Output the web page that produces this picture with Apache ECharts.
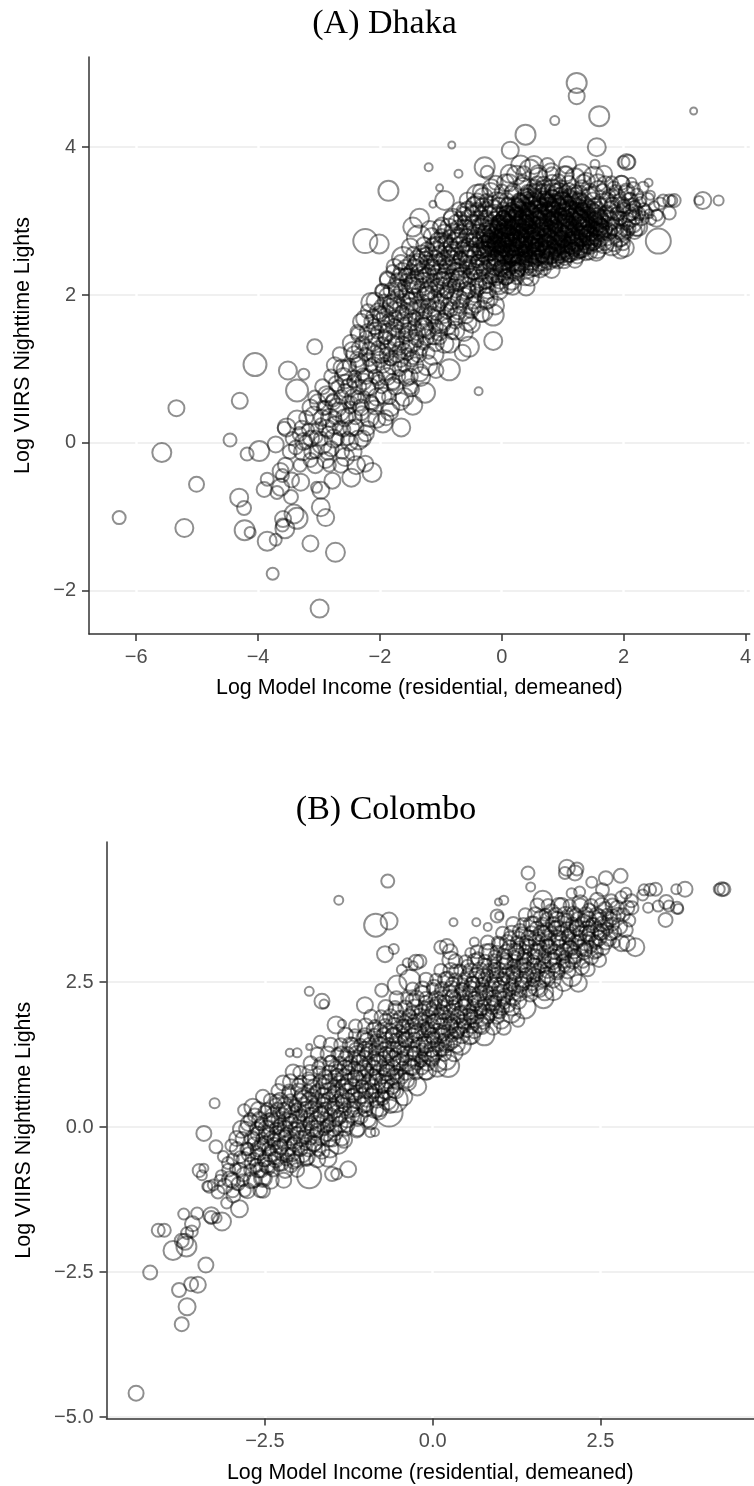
<!DOCTYPE html>
<html><head><meta charset="utf-8"><style>html,body{margin:0;background:#fff}#c{width:754px;height:1486px}</style>
<script src="https://cdn.jsdelivr.net/npm/echarts@6/dist/echarts.min.js"></script></head><body><div id="c"></div>
<script>
const titles=["(A) Dhaka","(B) Colombo"];
const xName="Log Model Income (residential, demeaned)";
const yName="Log VIIRS Nighttime Lights";
const dhakaXTicks=[-6,-4,-2,0,2,4];
const dhakaYTicks=[-2,0,2,4];
const colomboXTicks=[-2.5,0,2.5];
const colomboYTicks=[-5,-2.5,0,2.5];
// [log income, log lights, circle size]
const dhakaOutliers=[[-6.28,-1.01,13],[-5.58,-.13,19],[-5.34,.47,16],[-5.21,-1.15,18],[-5.01,-.56,15],[-4.46,.04,13],[-4.05,1.06,23],[-4.3,.57,16],[-4.18,-.15,13],[-3.98,-.11,20],[-4.31,-.74,18],[-4.23,-.88,14],[-4.22,-1.18,20],[-4.13,-1.21,11],[-3.85,-1.33,19],[-3.71,-1.31,12],[-3.76,-1.77,12],[-2.99,-2.24,18],[-2.73,-1.48,19],[-3.14,-1.36,16],[-2.89,-1.01,17],[-2.97,-.87,18],[-2.97,-.64,17],[-3.04,-.6,11],[-3.41,-.96,19],[-3.36,-1.02,21],[-3.59,-1.03,16],[-3.56,-1.16,19],[-3.6,-1.11,13],[-3.46,-.73,14],[-3.9,-.63,15],[-3.85,-.49,13],[-3.69,-.67,13],[-3.63,-.6,17],[-3.6,-.44,13],[-3.63,-.38,16],[-3.45,-.5,15],[-3.3,-.53,17],[-3.14,-.23,14],[-2.89,-.23,16],[-2.78,-.51,16],[-2.47,-.47,18],[-2.13,-.4,19],[-2.57,-.19,18],[-2.39,-.3,18],[-2.24,-.28,16],[-1.95,.27,19],[-1.65,.21,18],[-1.46,.51,19],[-2.35,.04,19],[-3.71,-.02,16],[-3.57,.2,13],[-3.53,.21,18],[-3.36,.31,19],[-3.22,.01,13],[-3.38,-.06,14],[-3.51,.98,18],[-3.25,.93,11],[-3.36,.71,22],[-3.07,1.3,15],[-1.86,3.41,20],[-2.24,2.73,24],[-2.01,2.69,19],[1.23,4.87,20],[1.23,4.69,16],[1.6,4.42,20],[.87,4.36,9],[3.15,4.49,7],[.39,4.17,20],[1.56,4,18],[-.82,4.03,7],[-1.2,3.73,8],[-.71,3.64,8],[-1.02,3.45,7],[-1.13,3.23,7],[.14,3.96,17],[-.94,3.28,19],[-.28,3.73,20],[-.24,3.66,13],[-.4,3.35,21],[-1.35,3.04,19],[-1.46,2.92,19],[2.05,3.8,16],[2.08,3.8,14],[2,3.8,12],[1.53,3.77,9],[2.41,3.52,8],[2.13,3.52,10],[2.44,3.35,9],[2.65,3.28,12],[2.75,3.28,12],[2.8,3.28,10],[2.83,3.28,13],[2.75,3.11,13],[2.54,3.04,17],[2.42,3.1,9],[2.57,2.73,25],[3.24,3.28,9],[3.3,3.28,17],[3.56,3.28,10],[-.14,1.38,18],[-.54,1.3,20],[-.14,1.73,21],[.4,2.11,17],[1.95,2.61,17],[-.38,.7,8]];
const dhakaLeftBody=[[-3.32,.12,14],[-3.25,.02,17],[-3.18,.18,12],[-3.12,-.12,15],[-3.08,.37,18],[-3.05,.08,13],[-3.02,.55,16],[-2.97,.26,11],[-2.95,-.02,19],[-2.92,.47,14],[-2.88,.66,16],[-2.85,.14,12],[-2.82,.34,18],[-2.8,-.08,15],[-2.77,.58,13],[-2.75,.24,17],[-2.72,.8,15],[-2.69,.05,12],[-2.66,.42,19],[-2.63,1.02,16],[-2.6,.18,14],[-2.58,.71,13],[-2.55,.98,20],[-2.52,.37,15],[-2.5,.01,17],[-2.47,.55,12],[-2.45,1.25,17],[-2.42,.84,14],[-2.4,.21,16],[-2.37,.62,13],[-2.35,1.47,15],[-2.33,1.08,18],[-2.3,.4,14],[-2.28,.93,12],[-2.25,1.68,17],[-2.23,.13,16],[-2.2,.74,15],[-2.18,1.28,13],[-2.15,1.9,19],[-2.13,.53,14],[-2.1,1.05,16],[-2.08,1.55,12],[-2.05,.32,17],[-2.03,.87,13],[-2,1.75,15],[-1.98,1.2,18],[-1.96,2.05,14],[-1.94,.64,16],[-1.92,1.42,13],[-1.9,.98,19],[-1.88,2.22,15],[-1.86,1.66,12],[-1.84,.42,17],[-1.82,1.14,14],[-1.8,1.88,18],[-1.78,.8,13],[-1.76,2.38,16],[-1.74,1.34,15],[-1.72,1.58,12],[-1.7,2.08,19],[-1.68,1,14],[-1.66,.56,17],[-1.64,1.77,13],[-1.62,2.5,22],[-1.6,1.24,15],[-1.58,2.27,13],[-1.56,.88,16],[-1.54,1.5,18],[-1.52,1.96,12],[-1.5,2.65,17],[-1.48,.73,15],[-1.46,1.16,14],[-1.44,2.15,20],[-1.42,1.67,13],[-1.4,2.42,16],[-1.38,1.38,12],[-1.36,2.78,24],[-1.34,.95,17],[-1.32,1.85,14],[-1.3,2.28,16],[-1.28,1.56,19],[-1.26,.68,20],[-1.24,2.56,13],[-1.22,2.02,15],[-1.2,1.22,12],[-1.18,2.88,18],[-1.16,1.73,17],[-1.14,2.36,14],[-1.12,1.44,16],[-1.1,2.66,19],[-1.08,.98,15],[-1.06,2.13,13],[-1.04,1.9,17],[-1.02,2.48,12],[-1,1.62,20],[-.98,2.94,16],[-.96,2.22,14],[-.94,1.34,18],[-.92,2.7,15],[-.9,2.04,13],[-.88,2.4,17],[-.86,.99,21],[-.84,1.8,14],[-.82,2.58,16],[-.8,3.04,19],[-.78,2.14,12],[-.76,1.52,18],[-.74,2.34,15],[-.72,2.8,13],[-.7,1.95,17],[-.68,2.5,14],[-.66,2.24,20],[-.64,1.22,16],[-.62,2.66,13],[-.6,3.12,18],[-.58,1.72,15],[-.56,2.42,17],[-.54,2.06,14],[-.52,2.9,12],[-.5,2.56,19],[-.49,1.6,16],[-.47,2.3,13]];
const dhakaMidBody=[[-.45,2.75,15],[-.43,3.2,20],[-.42,1.88,17],[-.4,2.46,13],[-.38,2.12,16],[-.37,2.95,14],[-.35,2.62,18],[-.33,1.74,15],[-.32,2.34,12],[-.3,3.32,19],[-.29,2.82,16],[-.27,2.18,14],[-.26,2.55,17],[-.24,3.02,13],[-.23,1.96,20],[-.21,2.7,15],[-.2,2.4,12],[-.18,2.9,18],[-.17,3.45,17],[-.15,2.26,14],[-.14,2.62,16],[-.12,3.12,15],[-.11,1.86,18],[-.09,2.78,13],[-.08,2.48,17],[-.06,2.98,14],[-.05,2.14,19],[-.03,3.28,16],[-.02,2.66,12],[0,2.36,17],[.01,2.86,15],[.03,3.06,13],[.04,2.55,18],[.06,3.52,17],[.07,2.24,15],[.09,2.74,14],[.1,3.2,16],[.12,2.46,13],[.13,2.94,19],[.15,2.64,15],[.16,3.38,14],[.18,2.12,17],[.19,2.82,12],[.21,3.1,18],[.22,2.54,16],[.24,3.62,19],[.25,2.32,14],[.27,2.96,15],[.28,2.72,13],[.3,3.24,17],[.31,2.44,18],[.33,2.86,14],[.34,3.48,16],[.36,2.6,12],[.37,3.04,19],[.39,2.24,16],[.4,2.78,15],[.42,3.34,14],[.43,2.52,17],[.45,2.94,13],[.46,3.7,20],[.48,2.68,16],[.49,3.14,14],[.51,2.38,18],[.52,2.84,15],[.54,3.42,13],[.55,2.6,17],[.57,3.02,16],[.58,2.74,12],[.6,3.6,18],[.61,2.5,15],[.63,3.22,14],[.64,2.9,17],[.66,2.68,13],[.67,3.1,19],[.69,3.5,15],[.7,2.44,16],[.72,2.98,12],[.73,2.78,18],[.75,3.3,14],[.76,2.6,17],[.78,3.16,15],[.79,2.86,13],[.81,3.66,18],[.82,2.54,16],[.84,3.04,14],[.85,3.4,17],[.87,2.72,15],[.88,2.94,12],[.9,3.22,19],[.91,2.64,16],[.93,3.54,14],[.94,2.84,17],[.96,3.08,13],[.97,2.56,18],[.99,3.32,15],[1,2.76,16],[1.02,3,14],[1.03,3.62,18],[1.05,2.66,13],[1.07,3.18,17],[1.08,2.88,15],[1.1,3.42,14],[1.12,2.58,19],[1.13,3.06,16],[1.15,2.78,12],[1.17,3.28,17],[1.18,2.96,15],[1.2,3.58,20],[1.22,2.68,14],[1.23,3.14,16],[1.25,2.86,13],[1.27,3.36,18],[1.28,2.6,15],[1.3,3.02,17],[1.32,3.46,14],[1.33,2.78,16],[1.35,3.2,12],[1.37,2.92,19],[1.39,3.54,17],[1.4,2.66,15],[1.42,3.1,14],[1.44,2.84,16],[1.46,3.34,18],[1.47,3,13],[1.49,2.72,17],[1.51,3.6,20],[1.53,3.2,15],[1.55,2.9,14],[1.57,2.62,18]];
const dhakaRightBody=[[1.58,3.42,18],[1.6,2.78,19],[1.62,3.06,15],[1.64,2.94,13],[1.66,3.26,17],[1.68,2.7,20],[1.7,3.5,16],[1.72,3.12,14],[1.74,2.86,18],[1.76,3.34,13],[1.78,3,17],[1.8,2.68,21],[1.82,3.22,15],[1.84,3.44,14],[1.86,2.92,18],[1.88,3.1,12],[1.9,3.32,16],[1.92,2.78,19],[1.94,3.04,14],[1.96,3.5,17],[1.98,2.84,16],[2,3.2,13],[2.02,2.64,18],[2.04,3.38,15],[2.06,3,17],[2.08,2.9,14],[2.1,3.3,12],[2.12,3.12,16],[2.14,2.98,20],[2.16,3.44,13],[2.18,3.2,11],[2.2,3.06,15],[2.22,3.36,12],[2.24,2.92,18],[2.28,3.26,10],[2.32,3.46,11],[2.36,3.12,13],[2.4,3.3,12],[2.45,3.02,10],[2.5,3.2,10],[2.55,3.08,11],[2.6,3.24,12]];
// each row: log lights, then pairs of log income and circle size
const dhakaRows=[
[-.3,-3.55,15,-3.31,13,-3.06,16,-2.83,13,-2.64,15],
[-.12,-3.48,14,-3.27,17,-3.05,13,-2.85,16,-2.62,14,-2.44,17],
[.06,-3.44,13,-3.13,16,-2.97,14,-2.76,18,-2.53,13,-2.28,16],
[.2,-3.28,15,-3.03,12,-2.87,17,-2.66,14,-2.47,16,-2.2,14],
[.34,-3.21,14,-2.95,16,-2.74,13,-2.58,17,-2.4,13,-2.17,18,-1.9,15],
[.48,-3.14,16,-2.89,14,-2.7,18,-2.49,12,-2.31,16,-2.09,14,-1.82,17],
[.62,-3.07,13,-2.84,17,-2.63,14,-2.44,16,-2.26,12,-2.05,17,-1.85,14,-1.6,18],
[.76,-2.94,15,-2.69,13,-2.51,16,-2.34,14,-2.16,17,-1.97,13,-1.75,16,-1.5,15],
[.9,-2.8,14,-2.6,17,-2.41,12,-2.23,15,-2.07,14,-1.88,17,-1.69,13,-1.51,16,-1.33,19],
[1.05,-2.74,16,-2.5,13,-2.35,16,-2.15,13,-1.95,15,-1.79,18,-1.6,13,-1.42,16,-1.22,20],
[1.2,-2.66,14,-2.42,16,-2.24,13,-2.08,17,-1.89,14,-1.72,16,-1.55,12,-1.37,16,-1.13,21],
[1.35,-2.47,17,-2.29,14,-2.12,16,-1.96,12,-1.8,16,-1.63,14,-1.47,18,-1.28,13,-1.08,16,-.85,19],
[1.5,-2.37,14,-2.2,16,-2.04,13,-1.87,17,-1.7,14,-1.56,12,-1.39,16,-1.2,14,-1.03,17,-.82,14,-.62,18],
[1.64,-2.31,16,-2.14,14,-1.98,17,-1.82,13,-1.65,15,-1.48,17,-1.31,14,-1.14,12,-.96,16,-.76,14,-.56,18],
[1.78,-2.2,14,-2.03,16,-1.88,12,-1.71,17,-1.56,14,-1.4,16,-1.25,13,-1.07,17,-.9,14,-.71,16,-.5,14,-.32,21],
[1.92,-2.08,17,-1.93,13,-1.76,15,-1.61,14,-1.46,18,-1.3,13,-1.16,16,-.99,14,-.82,17,-.64,13,-.46,15,-.26,17],
[2.06,-1.96,14,-1.81,16,-1.66,13,-1.5,16,-1.36,14,-1.2,18,-1.05,13,-.9,15,-.75,14,-.58,17,-.41,13,-.23,16,-.05,18],
[2.2,-1.87,16,-1.72,14,-1.57,12,-1.43,17,-1.28,15,-1.13,13,-.99,16,-.84,14,-.69,18,-.53,13,-.37,15,-.2,14,-.02,17,.16,19],
[2.32,-1.79,13,-1.63,17,-1.49,14,-1.34,16,-1.19,13,-1.04,15,-.91,14,-.76,17,-.61,12,-.46,16,-.3,14,-.15,13,.03,17,.22,18],
[2.44,-1.66,15,-1.51,13,-1.37,17,-1.23,14,-1.09,16,-.95,13,-.8,15,-.67,18,-.52,13,-.37,16,-.22,14,-.08,17,.08,13,.27,16,.45,20],
[2.56,-1.45,14,-1.31,17,-1.16,13,-1.02,16,-.88,14,-.74,12,-.6,17,-.45,14,-.3,16,-.16,13,0,15,.15,17,.34,14,.52,18,.7,19],
[2.68,-1.28,15,-1.12,13,-.98,17,-.84,14,-.7,16,-.56,13,-.42,15,-.27,18,-.12,13,.03,16,.19,14,.36,16,.55,13,.75,19,.96,18,1.18,20],
[2.8,-1.15,16,-.99,14,-.86,12,-.72,16,-.58,14,-.44,17,-.3,13,-.16,15,-.02,14,.14,17,.31,13,.5,16,.71,14,.93,17,1.16,15,1.42,19,1.72,19,1.95,20],
[2.92,-1.02,14,-.87,17,-.73,13,-.6,15,-.47,14,-.33,17,-.19,13,-.05,16,.1,14,.27,15,.45,13,.66,17,.88,14,1.11,16,1.36,14,1.61,18,1.83,15,2.02,17,2.2,18],
[3.04,-.83,15,-.68,13,-.54,17,-.4,14,-.26,16,-.12,13,.03,15,.2,17,.4,14,.61,16,.82,13,1.05,15,1.29,17,1.54,14,1.76,16,1.95,13,2.13,17,2.3,14],
[3.16,-.7,14,-.55,16,-.41,13,-.27,15,-.13,18,.03,14,.21,16,.4,13,.6,17,.84,14,1.08,16,1.33,13,1.57,15,1.8,17,2,14,2.17,16,2.33,12],
[3.28,-.56,16,-.4,14,-.25,13,-.09,17,.08,15,.28,14,.5,16,.73,13,.99,17,1.26,14,1.5,16,1.73,15,1.93,13,2.1,16,2.27,13],
[3.4,-.35,15,-.18,17,0,14,.19,16,.42,13,.67,15,.94,17,1.2,14,1.44,16,1.66,15,1.87,13,2.05,16],
[3.52,-.1,14,.12,17,.35,15,.58,13,.83,16,1.1,14,1.34,16,1.58,17,1.8,13,1.97,14],
[3.64,.13,18,.36,15,.6,17,.82,13,1.06,15,1.31,19,1.68,16],
[3.76,.31,19,.53,18,.75,14,1.08,17]
];
const dhakaCoreRows=[
[2.36,-.02,15,.12,13,.26,16,.4,14,.55,15,.7,13],
[2.44,.05,14,.18,16,.33,13,.48,15,.62,17,.78,14,.92,12],
[2.5,-.12,13,.02,16,.16,14,.3,12,.45,16,.59,14,.74,13,.89,16,1.04,14],
[2.56,-.2,14,-.06,15,.09,13,.23,17,.38,14,.52,13,.66,16,.81,14,.96,13,1.11,16],
[2.62,-.28,16,-.13,13,.02,14,.17,16,.31,13,.45,15,.6,14,.74,17,.88,13,1.03,15,1.18,14,1.33,16],
[2.68,-.22,13,-.07,16,.08,14,.22,13,.36,16,.51,14,.65,12,.8,16,.95,14,1.09,15,1.24,13,1.39,16],
[2.74,-.31,15,-.15,14,0,16,.14,12,.29,15,.43,14,.57,17,.72,13,.87,15,1.01,14,1.16,17,1.3,13,1.46,16],
[2.8,-.24,14,-.09,13,.06,17,.21,14,.35,12,.49,16,.64,14,.78,15,.93,13,1.07,16,1.22,14,1.37,13,1.52,16],
[2.86,-.17,16,-.02,14,.12,13,.27,15,.41,14,.56,16,.7,13,.85,17,.99,14,1.14,12,1.28,16,1.43,14,1.58,15],
[2.92,-.1,13,.05,16,.19,14,.33,15,.48,13,.62,17,.77,14,.91,12,1.05,16,1.2,14,1.34,15,1.49,13,1.63,16],
[2.98,-.03,15,.11,13,.26,16,.4,14,.54,12,.69,16,.83,14,.98,17,1.12,13,1.27,15,1.41,14,1.56,16,1.7,13],
[3.04,.02,14,.17,17,.31,13,.46,15,.6,14,.75,16,.89,12,1.04,15,1.18,14,1.33,17,1.47,13,1.62,15],
[3.1,.09,16,.23,14,.38,12,.52,16,.67,14,.81,15,.96,13,1.1,16,1.25,14,1.39,13,1.54,17],
[3.16,.16,13,.3,15,.44,14,.59,17,.73,13,.88,15,1.02,14,1.17,16,1.31,12,1.46,16],
[3.22,.22,15,.37,14,.51,16,.65,13,.8,15,.94,14,1.09,17,1.23,13,1.38,15],
[3.28,.3,14,.44,12,.58,16,.73,14,.87,13,1.01,16,1.16,14,1.3,15],
[3.34,.39,16,.53,14,.67,15,.82,13,.96,16,1.11,14],
[3.4,.46,13,.6,16,.75,14,.89,15,1.04,12],
[3.46,.54,15,.68,14,.83,16,.97,13]
];
const dhakaDenseRows=[
[.55,-2.77,15,-2.52,13,-2.35,17,-2.14,14],
[.83,-2.57,14,-2.44,12,-2.27,16,-2.02,13,-1.79,15],
[1.13,-2.37,15,-2.18,13,-2,16,-1.83,12,-1.66,15,-1.49,14],
[1.28,-2.33,16,-2.03,14,-1.87,15,-1.68,13,-1.52,16,-1.33,14],
[1.43,-2.23,13,-2.07,15,-1.91,14,-1.74,17,-1.59,12,-1.41,15,-1.24,16,-1.02,14],
[1.57,-2.09,15,-1.93,12,-1.77,16,-1.6,14,-1.43,13,-1.27,17,-1.08,14,-.89,16],
[1.71,-2.11,14,-1.92,16,-1.75,13,-1.59,15,-1.44,12,-1.28,16,-1.11,14,-.94,13,-.76,17],
[1.85,-1.98,13,-1.83,15,-1.67,14,-1.51,16,-1.35,13,-1.2,15,-1.03,12,-.87,16,-.69,14,-.49,18],
[1.99,-1.88,16,-1.72,13,-1.56,15,-1.41,14,-1.25,17,-1.1,13,-.94,15,-.78,14,-.61,16,-.44,13,-.26,15],
[2.13,-1.75,14,-1.6,12,-1.46,16,-1.31,14,-1.16,13,-1.01,16,-.86,14,-.71,12,-.56,16,-.41,14,-.25,15,-.08,13,.1,16],
[2.26,-1.68,15,-1.53,14,-1.39,13,-1.24,16,-1.09,14,-.95,15,-.81,13,-.66,16,-.51,14,-.36,12,-.2,16,-.05,14,.11,15],
[2.38,-1.58,14,-1.43,16,-1.29,13,-1.14,15,-1,14,-.86,12,-.71,16,-.57,14,-.42,15,-.27,13,-.12,16,.02,14,.17,13,.33,16],
[2.5,-1.39,15,-1.25,13,-1.1,16,-.96,14,-.82,15,-.68,13,-.54,16,-.39,14,-.24,12,-.1,16,.05,14,.2,15,.36,13],
[2.62,-1.22,14,-1.07,16,-.93,13,-.79,15,-.65,14,-.51,16,-.37,13,-.23,15,-.08,14,.07,16,.22,13,.38,15,.53,14],
[2.74,-1.05,15,-.91,13,-.77,16,-.63,14,-.49,12,-.35,16,-.21,14,-.06,15,.09,13,.24,16,.39,14,.55,15],
[2.86,-.95,14,-.81,16,-.67,13,-.53,15,-.39,14,-.25,17,-.1,13,.04,15,.19,14,.35,16,.5,13],
[2.98,-.75,15,-.61,14,-.47,16,-.33,13,-.19,15,-.05,14,.09,16,.24,13,.39,15],
[3.1,-.62,14,-.48,16,-.34,13,-.2,15,-.06,14,.08,16,.23,13,1.7,15,1.9,14,2.08,16,2.25,13],
[3.22,-.46,15,-.32,13,-.18,16,-.04,14,.11,15,.26,13,1.6,16,1.8,14,1.98,15,2.16,13],
[2.86,1.64,16,1.78,14,1.93,15,2.06,13,2.18,15],
[2.7,1.44,15,1.56,17,1.69,14,1.84,16,1.99,14],
[2.58,.92,16,1.07,14,1.23,15,1.38,16,1.55,17],
[2.47,.4,14,.55,13,.71,15,.86,14,1.02,16,1.2,15],
[2.34,.1,15,.27,14,.44,16,.63,15,.82,16],
[2.24,-.1,16,.06,15,.25,14,.47,17],
[2.53,.02,13,.13,15,.28,14,.41,12,.54,15,.67,13,.8,16,.94,14,1.09,13,1.24,15],
[2.59,-.34,14,-.02,13,.1,15,.25,13,.4,14,.56,16,.7,13,.84,15,.99,14,1.14,15,1.29,13,1.44,16],
[2.65,-.18,15,-.03,14,.12,13,.27,16,.42,13,.57,15,.71,14,.85,13,1,15,1.14,14,1.29,16,1.45,14],
[2.71,-.27,14,-.11,15,.04,13,.18,16,.33,14,.47,12,.62,16,.76,14,.91,15,1.05,13,1.2,16,1.35,14,1.5,15],
[2.77,-.2,15,-.05,14,.1,13,.25,15,.39,14,.53,16,.68,13,.82,15,.97,14,1.12,12,1.26,16,1.41,14,1.56,15],
[2.83,-.13,14,.02,16,.16,13,.31,15,.45,14,.6,12,.74,16,.89,14,1.03,15,1.18,13,1.32,16,1.47,14,1.62,15],
[2.89,-.07,15,.08,14,.23,12,.37,16,.52,14,.66,13,.81,15,.95,14,1.1,16,1.24,13,1.39,15,1.53,14,1.68,16],
[2.95,-.01,14,.15,13,.29,15,.44,14,.58,16,.73,13,.87,15,1.02,14,1.16,12,1.31,16,1.45,14,1.6,15],
[3.01,.06,15,.21,14,.35,16,.5,13,.64,15,.79,14,.93,16,1.08,13,1.22,15,1.37,14,1.51,16,1.66,14],
[3.07,.12,14,.27,16,.42,13,.56,15,.71,14,.85,13,1,16,1.14,14,1.29,15,1.43,13,1.58,16],
[3.13,.2,15,.34,13,.48,16,.63,14,.77,15,.92,13,1.06,16,1.21,14,1.35,13,1.5,16],
[3.19,.27,14,.41,16,.55,13,.7,15,.84,14,.99,16,1.13,13,1.28,15,1.42,14],
[3.25,.33,15,.48,14,.62,13,.76,16,.91,14,1.05,15,1.2,13,1.34,15],
[3.31,.41,13,.56,15,.7,14,.84,16,.98,13,1.13,15,1.27,14]
];
const colomboOutliers=[[-4.42,-4.59,15],[-3.74,-3.4,14],[-3.66,-3.1,17],[-3.78,-2.81,14],[-3.5,-2.72,16],[-3.6,-2.71,14],[-4.21,-2.51,14],[-3.38,-2.38,15],[-3.87,-2.13,19],[-3.67,-2.06,20],[-3.69,-1.98,16],[-3.74,-1.96,14],[-3.66,-1.83,12],[-3.59,-1.8,12],[-4.09,-1.78,13],[-4,-1.78,13],[-3.71,-1.5,11],[-3.51,-1.49,12],[-3.58,-1.67,15],[-3.3,-1.52,16],[-3.3,-1.56,13],[-3.22,-1.57,10],[-3.14,-1.63,18],[-3.07,-1.31,11],[-2.88,-1.41,17],[-3.25,.41,10],[-3.41,-.11,15],[-3.23,-.34,13],[-3.48,-.75,13],[-3.41,-.71,9],[-3.44,-.83,10],[-3.33,-1.03,12],[-3.36,-1.02,10],[-3.27,-1,11],[-3.17,-.92,11],[-3.12,-.51,11],[-1.84,-.85,24],[-1.5,-.81,14],[-1.43,-.81,11],[-1.26,-.73,16],[-1.41,-.3,19],[-1.56,-.54,17],[-.93,-.09,10],[-.86,-.09,8],[-.65,.24,27],[-.56,.47,25],[-.79,.35,19],[-2.53,-.88,15],[-2.53,-.88,18],[-2.57,-1.09,14],[-.67,4.24,13],[-1.4,3.91,9],[-.85,3.48,23],[-.65,3.55,17],[-.71,2.98,16],[-.58,3.07,10],[-1.84,2.34,9],[-1.65,2.17,15],[-1.62,2.12,9],[-.25,2.84,15],[-.38,2.83,9],[-.29,2.78,9],[-.46,2.71,10],[.12,3.1,13],[-.53,2.45,19],[-.34,2.53,21],[-.76,2.36,13],[-1.01,2.1,16],[-1.44,1.76,17],[-1.35,1.78,8],[-2.13,1.28,8],[-2.02,1.28,9],[-1.84,1.38,6],[-1.68,1.47,12],[-2.08,.95,15],[-2.23,.76,15],[-2.53,.52,14],[-2.81,.29,12],[-2.68,.34,17],[1.42,4.38,13],[1.46,4.14,9],[2,4.47,16],[2.15,4.45,13],[1.97,4.38,12],[2.12,4.38,15],[2.8,4.33,14],[2.58,4.29,14],[2.37,4.22,11],[1.06,3.91,9],[.98,3.88,7],[.31,3.53,8],[.65,3.53,8],[.96,3.64,13],[.99,3.64,8],[.82,3.45,8],[.62,3.19,9],[.56,3,10],[.21,3.12,14],[.26,3.02,15],[.27,2.88,17],[-.19,2.86,13],[4.31,4.1,14],[4.34,4.1,13],[4.27,4.1,11],[3.76,4.1,15],[3.63,4.1,10],[3.32,4.1,13],[3.24,4.09,12],[3.15,4.09,11],[3.13,4,11],[3.21,3.78,10],[3.48,3.88,14],[3.47,3.57,14],[3.64,3.78,12],[3.66,3.76,10],[3.52,3.81,11],[3.36,3.81,11],[3.02,3.1,18],[2.9,3.17,16],[2.81,3.17,16],[2.72,3.17,9],[2.48,2.88,14],[2.45,3.02,12],[2.31,2.72,14],[2.17,2.48,17],[1.67,2.33,17],[1.27,1.84,13],[1.06,1.71,14],[.23,1.05,22],[-.09,.98,19],[1.64,3.91,19],[2.07,4.03,10],[2.19,4.05,11],[2.53,4.09,13],[2.88,4.03,11],[2.97,3.78,13]];
const colomboLowerBody=[[-3.2,-1.12,13],[-3.15,-.84,11],[-3.1,-1.02,15],[-3.05,-.62,12],[-3.02,-.9,16],[-3,-.32,12],[-2.97,-1.18,14],[-2.94,-.72,11],[-2.92,-.2,15],[-2.9,-.98,13],[-2.87,-.52,12],[-2.85,-.04,17],[-2.82,-.82,14],[-2.8,-1.1,12],[-2.77,-.38,13],[-2.75,.06,15],[-2.72,-.62,11],[-2.7,-.92,16],[-2.67,-.2,12],[-2.65,.2,14],[-2.62,-.44,13],[-2.6,-.74,15],[-2.57,.04,11],[-2.55,-.3,14],[-2.52,-.58,12],[-2.5,.26,13],[-2.47,-.12,16],[-2.45,-.7,14],[-2.42,-.4,11],[-2.4,.12,15],[-2.37,-.22,13],[-2.35,-.54,12],[-2.32,.44,14],[-2.3,-.02,11],[-2.27,-.34,15],[-2.25,-.64,13],[-2.22,.28,16],[-2.2,-.16,12],[-2.17,-.48,14],[-2.15,.58,13],[-2.12,.1,15],[-2.1,-.28,11],[-2.07,-.6,14],[-2.05,.36,12],[-2.02,-.06,16],[-2,.72,13],[-1.97,-.38,14],[-1.95,.2,11],[-1.92,.5,15],[-1.9,-.18,13],[-1.87,-.52,15],[-1.85,.84,12],[-1.82,.06,14],[-1.8,.34,13],[-1.77,-.28,16],[-1.75,.62,11],[-1.72,-.06,14],[-1.7,1.02,13],[-1.67,.22,15],[-1.65,-.42,15],[-1.62,.46,12],[-1.6,.78,14],[-1.57,.02,13],[-1.55,-.2,16],[-1.52,1.14,11],[-1.5,.32,14],[-1.47,.6,13],[-1.45,-.1,15],[-1.42,.9,12],[-1.4,.16,14],[-1.37,1.26,15],[-1.35,.44,13],[-1.32,-.22,16],[-1.3,.72,12],[-1.27,.04,14],[-1.25,1.02,13],[-1.22,.3,15],[-1.2,1.42,14],[-1.18,.56,12],[-1.15,.84,16],[-1.13,-.06,14],[-1.1,1.2,13],[-1.08,.18,15],[-1.05,.7,12],[-1.03,1.54,14],[-1,.4,16],[-.98,.98,13],[-.95,1.3,15],[-.93,.08,14],[-.9,.6,12],[-.88,1.68,14],[-.85,.84,13],[-.83,1.12,16],[-.8,.26,15],[-.78,1.44,12],[-.75,.5,14],[-.73,.74,18],[-.7,1.84,13],[-.68,1,15],[-.65,1.26,12],[-.63,.38,16],[-.6,1.58,14],[-.58,.62,13],[-.55,2,15],[-.53,.88,14],[-.5,1.36,12],[-.48,1.12,16],[-.45,1.74,13],[-.43,.52,17],[-.4,1.5,15],[-.38,.8,14],[-.35,1.94,12],[-.33,1.04,16],[-.3,2.18,14],[-.28,1.28,13],[-.25,1.62,15],[-.23,.7,18],[-.2,1.84,14],[-.18,1.14,12],[-.15,2.3,15],[-.13,1.42,16],[-.1,.94,14],[-.08,1.7,13],[-.05,2.04,15],[-.03,1.22,17],[0,1.54,13],[.02,2.42,14],[.05,1.82,16],[.07,1.02,18],[.1,1.34,14],[.12,2.16,13],[.15,1.62,15],[.17,1.96,12],[.2,1.16,20],[.22,2.56,14],[.25,1.46,16],[.27,1.78,13],[.3,2.24,15],[.32,1.28,17],[.35,2.68,14],[.37,1.62,12],[.4,1.94,16]];
const colomboUpperBody=[[.42,1.42,20],[.45,2.36,14],[.47,1.74,13],[.5,2.08,15],[.52,2.78,12],[.55,1.56,16],[.57,1.9,14],[.6,2.48,13],[.62,1.66,15],[.65,2.2,16],[.67,2.9,13],[.7,1.78,18],[.72,2.02,12],[.75,2.6,15],[.77,1.58,20],[.8,2.32,14],[.82,1.9,13],[.85,3.02,16],[.87,2.14,14],[.9,1.72,15],[.92,2.72,12],[.95,2.44,16],[.97,2,14],[1,3.14,15],[1.02,1.84,17],[1.05,2.56,13],[1.07,2.26,15],[1.1,2.84,14],[1.12,2.12,16],[1.15,3.26,13],[1.17,1.96,19],[1.2,2.66,14],[1.22,2.38,12],[1.25,3,15],[1.27,2.18,17],[1.3,3.38,14],[1.32,2.78,13],[1.35,2.5,16],[1.37,2.06,22],[1.4,3.12,14],[1.42,2.9,12],[1.45,2.3,16],[1.47,3.5,15],[1.5,2.62,14],[1.52,3.24,13],[1.55,2.42,18],[1.57,3.02,15],[1.6,2.76,12],[1.62,3.6,16],[1.65,2.22,20],[1.67,3.34,14],[1.7,2.56,16],[1.72,3.12,13],[1.75,2.88,15],[1.77,3.72,14],[1.8,2.34,18],[1.82,3.44,13],[1.85,2.68,16],[1.87,3.22,14],[1.9,2.98,12],[1.92,3.82,15],[1.95,2.5,18],[1.97,3.56,14],[2,2.8,16],[2.02,3.3,13],[2.05,3.08,15],[2.07,2.6,20],[2.1,3.68,14],[2.12,2.94,13],[2.15,3.44,15],[2.17,3.2,12],[2.2,3.86,16],[2.22,2.76,15],[2.25,3.56,13],[2.27,3.06,14],[2.3,3.34,16],[2.33,3.74,13],[2.36,2.92,14],[2.39,3.48,15],[2.42,3.2,12],[2.45,3.92,14],[2.48,3.62,15],[2.51,3.36,16],[2.54,3.08,13],[2.57,3.76,14],[2.6,3.5,12],[2.63,3.24,14],[2.66,3.9,13],[2.69,3.62,15],[2.72,3.36,12],[2.75,3.78,14],[2.78,3.46,16],[2.81,3.96,12],[2.84,3.66,13],[2.87,3.4,15],[2.9,3.78,14],[2.93,3.56,12],[2.96,3.9,13]];
const colomboRows=[
[-1.1,-2.98,13,-2.76,15,-2.53,14],
[-.92,-2.98,15,-2.83,12,-2.66,14,-2.42,17,-2.22,15],
[-.74,-3.04,13,-2.88,14,-2.72,12,-2.56,15,-2.38,13,-2.2,16,-2.02,14],
[-.56,-2.98,12,-2.81,15,-2.66,13,-2.5,14,-2.34,16,-2.18,12,-2.03,15,-1.88,13,-1.72,16],
[-.38,-2.92,14,-2.76,12,-2.6,15,-2.45,13,-2.3,16,-2.15,14,-2,12,-1.85,15,-1.7,14,-1.53,17],
[-.2,-2.84,13,-2.69,15,-2.54,12,-2.4,14,-2.26,16,-2.11,13,-1.96,15,-1.82,12,-1.66,14,-1.5,16,-1.35,14],
[-.03,-2.78,14,-2.62,13,-2.48,16,-2.34,12,-2.2,15,-2.06,13,-1.92,14,-1.78,16,-1.62,13,-1.47,15,-1.3,14,-1.12,15],
[.13,-2.72,13,-2.58,15,-2.44,12,-2.3,14,-2.16,13,-2.02,16,-1.88,12,-1.73,15,-1.58,13,-1.44,14,-1.28,16,-1.12,13,-.96,15],
[.3,-2.6,15,-2.46,13,-2.31,14,-2.17,16,-2.03,12,-1.89,15,-1.74,13,-1.6,14,-1.45,16,-1.3,12,-1.16,15,-1,14,-.86,17],
[.46,-2.42,13,-2.27,15,-2.12,12,-1.98,14,-1.84,16,-1.7,13,-1.55,15,-1.41,12,-1.26,14,-1.12,16,-.98,13,-.83,15,-.68,19],
[.62,-2.3,14,-2.14,13,-2,15,-1.86,12,-1.71,14,-1.56,16,-1.42,13,-1.28,15,-1.13,12,-.99,14,-.85,13,-.7,16,-.55,15],
[.78,-2.12,15,-1.97,12,-1.83,14,-1.68,13,-1.54,15,-1.39,12,-1.25,16,-1.1,13,-.96,14,-.82,16,-.67,13,-.53,15,-.38,18],
[.94,-1.98,13,-1.83,15,-1.69,12,-1.54,14,-1.4,16,-1.26,13,-1.11,15,-.97,12,-.83,14,-.68,16,-.54,13,-.4,15,-.25,14],
[1.1,-1.82,14,-1.67,12,-1.52,15,-1.38,13,-1.23,14,-1.09,16,-.95,13,-.8,15,-.66,12,-.52,14,-.37,16,-.23,13,-.08,15,.08,17],
[1.26,-1.72,13,-1.56,15,-1.42,12,-1.27,14,-1.13,16,-.99,13,-.84,15,-.7,14,-.55,12,-.41,16,-.27,14,-.12,13,.02,15,.17,14],
[1.42,-1.52,14,-1.37,13,-1.23,15,-1.08,12,-.94,14,-.79,16,-.65,13,-.51,15,-.36,12,-.22,14,-.08,16,.07,13,.21,15,.36,16],
[1.58,-1.3,15,-1.16,12,-1.01,14,-.87,13,-.72,15,-.58,16,-.44,13,-.3,14,-.15,12,-.01,15,.13,14,.28,13,.43,16,.58,17],
[1.74,-1.15,13,-1,15,-.86,12,-.71,14,-.57,16,-.43,13,-.29,15,-.14,12,0,14,.14,16,.29,13,.43,15,.58,14,.73,16],
[1.9,-.92,14,-.77,13,-.63,15,-.49,12,-.34,14,-.2,16,-.06,13,.09,15,.23,12,.37,14,.52,16,.66,13,.81,15,.96,14],
[2.06,-.7,15,-.56,13,-.41,14,-.27,16,-.12,12,.02,15,.16,13,.31,14,.45,16,.6,12,.74,15,.89,13,1.03,15,1.18,16],
[2.22,-.54,14,-.38,12,-.24,15,-.1,13,.05,14,.19,16,.33,12,.48,15,.62,13,.77,14,.91,16,1.06,13,1.2,15],
[2.38,-.3,13,-.15,15,0,12,.14,14,.28,16,.43,13,.57,15,.72,12,.86,14,1,16,1.15,13,1.29,15,1.44,14,1.59,16],
[2.54,-.1,14,.05,12,.19,15,.34,13,.48,14,.63,16,.77,13,.92,15,1.06,12,1.21,14,1.35,16,1.5,13,1.64,15,1.79,16],
[2.7,.12,13,.27,15,.41,12,.56,14,.7,16,.84,13,.99,15,1.13,12,1.28,14,1.42,16,1.57,13,1.71,15,1.86,14,2.01,16],
[2.86,.34,14,.49,12,.63,15,.78,13,.92,14,1.07,16,1.21,13,1.36,15,1.5,12,1.65,14,1.79,16,1.94,13,2.09,15,2.24,13],
[3.02,.66,13,.8,15,.95,12,1.09,14,1.24,16,1.38,13,1.53,15,1.67,12,1.82,14,1.96,16,2.11,13,2.26,15,2.41,14],
[3.18,.82,14,.97,12,1.11,15,1.26,13,1.4,14,1.55,16,1.69,13,1.84,15,1.98,12,2.13,14,2.28,16,2.43,13,2.58,14],
[3.34,1.04,13,1.18,15,1.33,12,1.47,14,1.62,16,1.76,13,1.91,15,2.05,12,2.2,14,2.35,16,2.5,13,2.65,14],
[3.5,1.2,14,1.35,12,1.5,15,1.64,13,1.79,14,1.93,16,2.08,13,2.23,14,2.38,12,2.53,15,2.68,13],
[3.66,1.38,13,1.53,15,1.68,12,1.83,14,1.98,16,2.13,13,2.28,15,2.44,14,2.6,12,2.76,14],
[3.82,1.56,14,1.72,13,1.88,15,2.04,12,2.2,14,2.36,13,2.52,15,2.68,14]
];
const colomboDenseRows=[
[-.66,-2.63,13,-2.47,15,-2.29,12,-2.11,14],
[-.47,-2.74,14,-2.58,12,-2.42,15,-2.25,13,-2.09,14,-1.94,16],
[-.29,-2.66,13,-2.5,15,-2.36,12,-2.21,14,-2.06,15,-1.9,12,-1.76,14],
[-.12,-2.61,14,-2.46,12,-2.32,15,-2.18,13,-2.03,14,-1.88,15,-1.74,13,-1.58,14],
[.05,-2.55,13,-2.41,15,-2.27,12,-2.13,14,-1.99,15,-1.85,12,-1.7,14,-1.54,13,-1.38,15],
[.21,-2.38,14,-2.23,13,-2.1,15,-1.96,12,-1.81,14,-1.66,15,-1.52,13,-1.37,14,-1.2,15],
[.38,-2.34,13,-2.2,15,-2.05,12,-1.91,14,-1.76,13,-1.62,15,-1.48,12,-1.33,14,-1.18,13,-1.03,15],
[.54,-1.95,14,-1.79,13,-1.64,15,-1.5,12,-1.35,14,-1.2,13,-1.06,15,-.91,14,-.76,13],
[.7,-1.78,13,-1.63,15,-1.48,12,-1.34,14,-1.2,15,-1.05,13,-.9,14,-.75,13,-.61,15],
[.86,-1.6,14,-1.46,13,-1.32,15,-1.18,12,-1.03,14,-.89,15,-.75,13,-.6,14,-.46,13],
[1.02,-1.45,13,-1.31,15,-1.17,12,-1.02,14,-.88,15,-.74,13,-.59,14,-.45,12,-.3,15,-.16,13],
[1.18,-1.3,14,-1.16,12,-1.02,15,-.88,13,-.73,14,-.59,15,-.45,13,-.3,14,-.16,12,-.01,15],
[1.34,-1.15,13,-1.01,15,-.86,12,-.72,14,-.58,15,-.44,13,-.29,14,-.15,12,-.01,15,.14,13],
[1.5,-.98,14,-.84,12,-.7,15,-.55,13,-.41,14,-.27,15,-.12,13,.02,14,.16,12,.31,15],
[1.66,-.78,13,-.64,15,-.5,12,-.36,14,-.21,15,-.07,13,.07,14,.22,12,.36,15,.51,13],
[1.82,-.55,14,-.41,12,-.26,15,-.12,13,.02,14,.17,15,.31,13,.46,14,.6,12,.75,15],
[1.98,-.3,13,-.16,15,-.02,12,.13,14,.27,15,.42,13,.56,14,.71,12,.85,15,1,13],
[2.14,-.1,14,.05,12,.19,15,.34,13,.48,14,.63,15,.77,13,.92,14,1.07,12],
[2.3,.12,13,.26,15,.41,12,.55,14,.7,15,.84,13,.99,14,1.14,12,1.29,15],
[2.46,.3,14,.45,12,.59,15,.74,13,.88,14,1.03,15,1.18,13,1.33,14,1.48,12],
[2.62,.52,13,.66,15,.81,12,.95,14,1.1,15,1.25,13,1.4,14,1.55,12,1.7,15],
[2.78,.77,14,.92,12,1.06,15,1.21,13,1.36,14,1.51,15,1.66,13,1.81,14,1.96,12],
[2.94,.93,13,1.07,15,1.22,12,1.37,14,1.52,15,1.67,13,1.82,14,1.97,12,2.12,15],
[3.1,1.15,14,1.3,12,1.45,15,1.6,13,1.75,14,1.9,15,2.05,13,2.2,14,2.35,12],
[3.26,1.28,13,1.43,15,1.58,12,1.73,14,1.88,15,2.03,13,2.18,14,2.33,12,2.48,15],
[3.42,1.55,14,1.7,12,1.85,15,2,13,2.15,14,2.3,15,2.45,13,2.6,12],
[3.58,1.7,13,1.85,15,2.01,12,2.16,14,2.32,15,2.48,13,2.64,14]
];
const rowsToPoints=rows=>rows.flatMap(r=>{const out=[];for(let i=1;i<r.length;i+=2)out.push([r[i],r[0],r[i+1]]);return out});
const toMinus=v=>String(v).replace('-','\u2212');
const allDhaka=dhakaOutliers.concat(dhakaLeftBody,dhakaMidBody,dhakaRightBody,rowsToPoints(dhakaRows),rowsToPoints(dhakaCoreRows),rowsToPoints(dhakaDenseRows));
const allColombo=colomboOutliers.concat(colomboLowerBody,colomboUpperBody,rowsToPoints(colomboRows),rowsToPoints(colomboDenseRows));
const fam='"Liberation Sans",Arial,sans-serif';
const axisStroke={color:'#333',width:1.5};
function xAxis(i,min,max,ticks,fmt){return{gridIndex:i,type:'value',min,max,z:1,name:xName,nameLocation:'middle',nameGap:44,nameTextStyle:{fontFamily:fam,fontSize:21.4,color:'#000'},
 axisLine:{show:true,onZero:false,lineStyle:axisStroke},axisTick:{show:true,length:7,customValues:ticks,lineStyle:axisStroke},
 axisLabel:{customValues:ticks,formatter:fmt,fontFamily:fam,fontSize:20,color:'#4d4d4d',margin:13,showMinLabel:true,showMaxLabel:true,hideOverlap:false},
 splitLine:{show:true,lineStyle:{color:'#fff',width:2.5}}}}
function yAxis(i,min,max,ticks,fmt,gap){return{gridIndex:i,type:'value',min,max,name:yName,nameLocation:'middle',nameGap:gap,nameTextStyle:{fontFamily:fam,fontSize:21.4,color:'#000'},
 axisLine:{show:true,onZero:false,lineStyle:axisStroke},axisTick:{show:true,length:7,customValues:ticks,lineStyle:axisStroke},
 axisLabel:{customValues:ticks,formatter:fmt,fontFamily:fam,fontSize:20,color:'#4d4d4d',margin:13},
 splitLine:{show:true,lineStyle:{color:'#ebebeb',width:1.5}}}}
const ring={color:'rgba(0,0,0,0)',borderColor:'rgba(0,0,0,0.55)',borderWidth:2};
const titleStyle={fontFamily:'"Liberation Serif",serif',fontWeight:'normal',fontSize:34,color:'#000'};
const chart=echarts.init(document.getElementById('c'),null,{renderer:'canvas'});
chart.setOption({animation:false,backgroundColor:'#fff',
 title:[{text:titles[0],left:379.5,top:2,textAlign:'center',textStyle:titleStyle},{text:titles[1],left:381,top:788,textAlign:'center',textStyle:titleStyle}],
 grid:[{left:89,top:57,width:665,height:577},{left:106.5,top:842,width:647.5,height:576.5}],
 xAxis:[xAxis(0,-6.775,4.07,dhakaXTicks,toMinus),xAxis(1,-4.861,4.788,colomboXTicks,v=>toMinus(v.toFixed(1)))],
 yAxis:[yAxis(0,-2.584,5.22,dhakaYTicks,toMinus,55),yAxis(1,-5.026,4.914,colomboYTicks,v=>toMinus(v.toFixed(1)),72)],
 series:[{type:'scatter',xAxisIndex:0,yAxisIndex:0,data:allDhaka,symbol:'circle',symbolSize:v=>v[2],itemStyle:ring,silent:true,progressive:0,z:2},
         {type:'scatter',xAxisIndex:1,yAxisIndex:1,data:allColombo,symbol:'circle',symbolSize:v=>v[2],itemStyle:ring,silent:true,progressive:0,z:2}]});
</script></body></html>
